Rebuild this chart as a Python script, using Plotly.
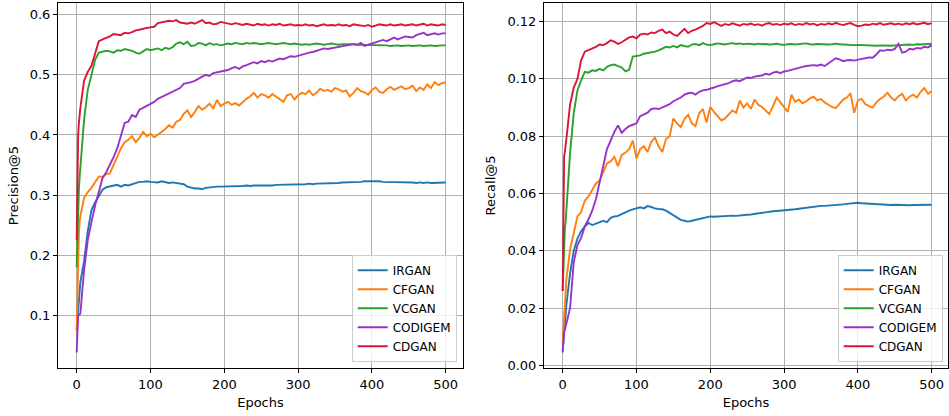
import plotly.graph_objects as go

epochs = [0, 1, 2, 3, 4] + list(range(5, 501, 5))

models = ["IRGAN", "CFGAN", "VCGAN", "CODIGEM", "CDGAN"]
colors = ["#1f77b4", "#ff7f0e", "#2ca02c", "#9932cc", "#dc143c"]

irgan_p = [0.075, 0.090, 0.103, 0.120, 0.140,
           0.155, 0.190, 0.240, 0.275, 0.288, 0.298, 0.309, 0.313, 0.314, 0.315,
           0.317, 0.314, 0.317, 0.316, 0.318, 0.321, 0.322, 0.322, 0.323, 0.322,
           0.322, 0.321, 0.323, 0.322, 0.320, 0.321, 0.320, 0.320, 0.318, 0.314,
           0.312, 0.311, 0.311, 0.310, 0.312, 0.313, 0.313, 0.314, 0.314, 0.314,
           0.314, 0.315, 0.314, 0.315, 0.315, 0.316, 0.315, 0.316, 0.316, 0.315,
           0.316, 0.316, 0.316, 0.317, 0.317, 0.317, 0.318, 0.318, 0.317, 0.318,
           0.318, 0.318, 0.319, 0.318, 0.319, 0.319, 0.319, 0.320, 0.320, 0.320,
           0.320, 0.321, 0.321, 0.321, 0.322, 0.322, 0.322, 0.323, 0.323, 0.324,
           0.323, 0.323, 0.322, 0.322, 0.322, 0.322, 0.321, 0.321, 0.322, 0.321,
           0.321, 0.320, 0.321, 0.320, 0.321, 0.320, 0.320, 0.320, 0.320, 0.321]

cfgan_p = [0.075, 0.150, 0.208, 0.235, 0.255,
           0.265, 0.295, 0.305, 0.312, 0.322, 0.331, 0.330, 0.335, 0.336, 0.350,
           0.366, 0.378, 0.388, 0.392, 0.398, 0.388, 0.395, 0.405, 0.398, 0.402,
           0.396, 0.400, 0.405, 0.410, 0.416, 0.412, 0.422, 0.425, 0.435, 0.441,
           0.430, 0.438, 0.448, 0.442, 0.446, 0.452, 0.444, 0.458, 0.448, 0.452,
           0.455, 0.450, 0.453, 0.449, 0.455, 0.460, 0.464, 0.470, 0.462, 0.468,
           0.466, 0.462, 0.468, 0.464, 0.460, 0.455, 0.466, 0.468, 0.459, 0.466,
           0.470, 0.468, 0.474, 0.466, 0.470, 0.477, 0.473, 0.475, 0.472, 0.478,
           0.476, 0.472, 0.474, 0.464, 0.470, 0.478, 0.473, 0.471, 0.467, 0.475,
           0.479, 0.472, 0.470, 0.476, 0.480, 0.475, 0.478, 0.481, 0.476, 0.478,
           0.482, 0.473, 0.479, 0.475, 0.484, 0.478, 0.488, 0.483, 0.486, 0.488]

vcgan_p = [0.180, 0.240, 0.280, 0.310, 0.330,
           0.345, 0.425, 0.475, 0.500, 0.525, 0.537, 0.538, 0.540, 0.539, 0.537,
           0.541, 0.540, 0.543, 0.542, 0.540, 0.537, 0.535, 0.539, 0.543, 0.541,
           0.543, 0.544, 0.541, 0.545, 0.543, 0.546, 0.552, 0.554, 0.551, 0.555,
           0.548, 0.549, 0.553, 0.552, 0.549, 0.553, 0.550, 0.551, 0.549, 0.551,
           0.552, 0.551, 0.553, 0.552, 0.551, 0.553, 0.552, 0.553, 0.552, 0.551,
           0.552, 0.553, 0.552, 0.551, 0.552, 0.553, 0.552, 0.551, 0.552, 0.551,
           0.550, 0.551, 0.550, 0.551, 0.552, 0.551, 0.550, 0.551, 0.552, 0.551,
           0.550, 0.551, 0.551, 0.552, 0.551, 0.550, 0.550, 0.549, 0.550, 0.549,
           0.549, 0.550, 0.549, 0.549, 0.548, 0.549, 0.549, 0.548, 0.549, 0.549,
           0.548, 0.549, 0.549, 0.548, 0.549, 0.549, 0.548, 0.549, 0.549, 0.549]

codigem_p = [0.038, 0.070, 0.100, 0.100, 0.101,
             0.103, 0.175, 0.225, 0.255, 0.283, 0.305, 0.328, 0.338, 0.350, 0.363,
             0.378, 0.400, 0.420, 0.422, 0.433, 0.430, 0.442, 0.445, 0.448, 0.451,
             0.455, 0.460, 0.463, 0.466, 0.470, 0.473, 0.476, 0.478, 0.485, 0.486,
             0.488, 0.490, 0.494, 0.497, 0.500, 0.498, 0.503, 0.504, 0.506, 0.507,
             0.508, 0.511, 0.513, 0.510, 0.514, 0.516, 0.518, 0.521, 0.519, 0.523,
             0.521, 0.524, 0.522, 0.525, 0.527, 0.526, 0.529, 0.531, 0.530, 0.532,
             0.533, 0.535, 0.537, 0.538, 0.540, 0.542, 0.544, 0.543, 0.544, 0.546,
             0.546, 0.547, 0.548, 0.549, 0.551, 0.550, 0.553, 0.548, 0.550, 0.552,
             0.553, 0.556, 0.558, 0.556, 0.559, 0.562, 0.559, 0.561, 0.564, 0.563,
             0.562, 0.566, 0.568, 0.570, 0.566, 0.567, 0.569, 0.567, 0.569, 0.569]

cdgan_p = [0.225, 0.385, 0.400, 0.420, 0.435,
           0.445, 0.490, 0.505, 0.515, 0.536, 0.556, 0.559, 0.561, 0.564, 0.568,
           0.567, 0.566, 0.570, 0.569, 0.571, 0.574, 0.575, 0.577, 0.578, 0.579,
           0.580, 0.586, 0.587, 0.588, 0.590, 0.589, 0.591, 0.587, 0.586, 0.585,
           0.587, 0.585, 0.588, 0.591, 0.586, 0.587, 0.584, 0.585, 0.588, 0.587,
           0.585, 0.584, 0.586, 0.584, 0.583, 0.585, 0.584, 0.582, 0.585, 0.583,
           0.584, 0.582, 0.584, 0.583, 0.585, 0.582, 0.583, 0.584, 0.582, 0.583,
           0.582, 0.584, 0.582, 0.583, 0.581, 0.583, 0.584, 0.582, 0.583, 0.582,
           0.584, 0.582, 0.583, 0.581, 0.584, 0.583, 0.582, 0.581, 0.583, 0.580,
           0.582, 0.584, 0.583, 0.582, 0.584, 0.582, 0.583, 0.584, 0.582, 0.583,
           0.584, 0.582, 0.583, 0.585, 0.582, 0.584, 0.583, 0.582, 0.584, 0.583]

irgan_r = [0.0050, 0.0090, 0.0130, 0.0160, 0.0190,
           0.0210, 0.0320, 0.0400, 0.0443, 0.0468, 0.0485, 0.0497, 0.0490, 0.0495, 0.0500,
           0.0505, 0.0500, 0.0515, 0.0520, 0.0522, 0.0528, 0.0535, 0.0540, 0.0545, 0.0548,
           0.0552, 0.0548, 0.0556, 0.0553, 0.0548, 0.0546, 0.0545, 0.0540, 0.0532, 0.0524,
           0.0514, 0.0508, 0.0505, 0.0502, 0.0505, 0.0508, 0.0512, 0.0514, 0.0517, 0.0520,
           0.0519, 0.0520, 0.0521, 0.0522, 0.0521, 0.0523, 0.0522, 0.0524, 0.0525, 0.0526,
           0.0527, 0.0529, 0.0531, 0.0534, 0.0536, 0.0537, 0.0538, 0.0539, 0.0540, 0.0540,
           0.0542, 0.0543, 0.0545, 0.0547, 0.0549, 0.0550, 0.0552, 0.0554, 0.0556, 0.0557,
           0.0557, 0.0558, 0.0557, 0.0559, 0.0560, 0.0562, 0.0564, 0.0566, 0.0567, 0.0568,
           0.0566, 0.0565, 0.0564, 0.0563, 0.0562, 0.0561, 0.0561, 0.0560, 0.0560, 0.0561,
           0.0560, 0.0559, 0.0560, 0.0559, 0.0560, 0.0560, 0.0561, 0.0560, 0.0561, 0.0561]

cfgan_r = [0.0080, 0.0130, 0.0180, 0.0230, 0.0270,
           0.0300, 0.0404, 0.0460, 0.0520, 0.0535, 0.0575, 0.0590, 0.0612, 0.0635, 0.0645,
           0.0675, 0.0705, 0.0712, 0.0728, 0.0695, 0.0735, 0.0742, 0.0755, 0.0785, 0.0722,
           0.0755, 0.0765, 0.0745, 0.0780, 0.0795, 0.0765, 0.0745, 0.0790, 0.0800, 0.0862,
           0.0845, 0.0832, 0.0860, 0.0875, 0.0845, 0.0835, 0.0880, 0.0895, 0.0848, 0.0902,
           0.0885, 0.0868, 0.0855, 0.0862, 0.0875, 0.0890, 0.0882, 0.0925, 0.0900, 0.0915,
           0.0895, 0.0928, 0.0910, 0.0902, 0.0890, 0.0878, 0.0905, 0.0935, 0.0918, 0.0900,
           0.0885, 0.0945, 0.0920, 0.0928, 0.0915, 0.0922, 0.0932, 0.0938, 0.0925, 0.0930,
           0.0918, 0.0910, 0.0902, 0.0898, 0.0912, 0.0928, 0.0935, 0.0950, 0.0882, 0.0925,
           0.0930, 0.0912, 0.0905, 0.0900, 0.0918, 0.0930, 0.0938, 0.0952, 0.0935, 0.0925,
           0.0940, 0.0948, 0.0925, 0.0938, 0.0945, 0.0935, 0.0955, 0.0968, 0.0948, 0.0958]

vcgan_r = [0.0260, 0.0360, 0.0450, 0.0480, 0.0500,
           0.0540, 0.0740, 0.0880, 0.0960, 0.0995, 0.1025, 0.1022, 0.1030, 0.1028, 0.1035,
           0.1030, 0.1042, 0.1048, 0.1050, 0.1045, 0.1040, 0.1026, 0.1032, 0.1078, 0.1080,
           0.1082, 0.1088, 0.1090, 0.1092, 0.1095, 0.1100, 0.1105, 0.1112, 0.1110, 0.1115,
           0.1110, 0.1118, 0.1115, 0.1112, 0.1120, 0.1122, 0.1118, 0.1125, 0.1120, 0.1118,
           0.1121, 0.1124, 0.1122, 0.1120, 0.1123, 0.1125, 0.1122, 0.1124, 0.1121, 0.1123,
           0.1122, 0.1120, 0.1123, 0.1121, 0.1122, 0.1120, 0.1121, 0.1123, 0.1120, 0.1119,
           0.1121, 0.1122, 0.1120, 0.1121, 0.1123, 0.1124, 0.1121, 0.1120, 0.1122, 0.1121,
           0.1122, 0.1120, 0.1121, 0.1123, 0.1121, 0.1120, 0.1119, 0.1120, 0.1118, 0.1119,
           0.1118, 0.1117, 0.1116, 0.1117, 0.1116, 0.1117, 0.1116, 0.1117, 0.1116, 0.1117,
           0.1118, 0.1117, 0.1119, 0.1120, 0.1119, 0.1121, 0.1120, 0.1121, 0.1122, 0.1123]

codigem_r = [0.0045, 0.0090, 0.0120, 0.0125, 0.0135,
             0.0140, 0.0200, 0.0360, 0.0420, 0.0445, 0.0485, 0.0510, 0.0540, 0.0580, 0.0640,
             0.0705, 0.0755, 0.0785, 0.0815, 0.0838, 0.0812, 0.0825, 0.0835, 0.0840, 0.0845,
             0.0870, 0.0875, 0.0882, 0.0895, 0.0897, 0.0895, 0.0900, 0.0905, 0.0912, 0.0922,
             0.0928, 0.0935, 0.0945, 0.0950, 0.0952, 0.0945, 0.0955, 0.0960, 0.0962, 0.0965,
             0.0970, 0.0975, 0.0978, 0.0982, 0.0985, 0.0992, 0.0995, 0.0992, 0.0998, 0.1005,
             0.1003, 0.1008, 0.1010, 0.1012, 0.1018, 0.1015, 0.1022, 0.1025, 0.1020, 0.1026,
             0.1028, 0.1032, 0.1035, 0.1040, 0.1042, 0.1045, 0.1046, 0.1048, 0.1046, 0.1050,
             0.1045, 0.1055, 0.1062, 0.1072, 0.1068, 0.1062, 0.1065, 0.1066, 0.1064, 0.1068,
             0.1070, 0.1072, 0.1075, 0.1074, 0.1085, 0.1100, 0.1098, 0.1102, 0.1100, 0.1105,
             0.1122, 0.1092, 0.1095, 0.1105, 0.1103, 0.1108, 0.1106, 0.1112, 0.1110, 0.1118]

cdgan_r = [0.0260, 0.0600, 0.0730, 0.0745, 0.0760,
           0.0790, 0.0910, 0.0970, 0.1000, 0.1065, 0.1095, 0.1100, 0.1105, 0.1112, 0.1120,
           0.1118, 0.1125, 0.1135, 0.1130, 0.1122, 0.1128, 0.1135, 0.1145, 0.1148, 0.1142,
           0.1155, 0.1158, 0.1155, 0.1162, 0.1160, 0.1168, 0.1172, 0.1160, 0.1165, 0.1155,
           0.1150, 0.1162, 0.1175, 0.1160, 0.1168, 0.1172, 0.1178, 0.1185, 0.1195, 0.1192,
           0.1198, 0.1190, 0.1185, 0.1192, 0.1188, 0.1194, 0.1190, 0.1186, 0.1192, 0.1189,
           0.1193, 0.1188, 0.1191, 0.1186, 0.1192, 0.1195, 0.1189, 0.1192, 0.1188, 0.1193,
           0.1190, 0.1194, 0.1188, 0.1192, 0.1189, 0.1195, 0.1190, 0.1193, 0.1187, 0.1192,
           0.1189, 0.1194, 0.1190, 0.1196, 0.1191, 0.1188, 0.1192, 0.1195, 0.1189, 0.1184,
           0.1186, 0.1190, 0.1188, 0.1193, 0.1190, 0.1195, 0.1189, 0.1192, 0.1194, 0.1190,
           0.1193, 0.1189, 0.1194, 0.1191, 0.1195, 0.1190, 0.1193, 0.1196, 0.1191, 0.1195]

precision = [irgan_p, cfgan_p, vcgan_p, codigem_p, cdgan_p]
recall = [irgan_r, cfgan_r, vcgan_r, codigem_r, cdgan_r]

FONT = "DejaVu Sans"
fig = go.Figure()
for name, col, ys in zip(models, colors, precision):
    fig.add_trace(go.Scatter(x=epochs, y=ys, mode="lines", name=name,
                             line=dict(color=col, width=1.9),
                             xaxis="x", yaxis="y", legend="legend"))
for name, col, ys in zip(models, colors, recall):
    fig.add_trace(go.Scatter(x=epochs, y=ys, mode="lines", name=name,
                             line=dict(color=col, width=1.9),
                             xaxis="x2", yaxis="y2", legend="legend2"))

axis_common = dict(showline=True, linecolor="black", linewidth=1, mirror=True,
                   ticks="outside", ticklen=4, tickcolor="black", tickwidth=1,
                   showgrid=True, gridcolor="#b0b0b0", gridwidth=0.8,
                   zeroline=False, automargin=False,
                   tickfont=dict(family=FONT, size=13, color="black"))

ydom = [1 - 368 / 416, 1 - 3 / 416]
legend_common = dict(xanchor="right", yanchor="bottom",
                     bgcolor="rgba(255,255,255,0.8)", bordercolor="#cccccc", borderwidth=1,
                     font=dict(family=FONT, size=12), tracegroupgap=0)
fig.update_layout(
    width=949, height=416,
    margin=dict(l=0, r=0, t=0, b=0),
    paper_bgcolor="white", plot_bgcolor="white",
    font=dict(family=FONT, size=13, color="black"),
    xaxis=dict(domain=[58 / 949, 463 / 949], range=[-25.3, 523.4], anchor="y",
               tickvals=[0, 100, 200, 300, 400, 500],
               title=dict(text="Epochs", standoff=7, font=dict(family=FONT, size=13)),
               **axis_common),
    yaxis=dict(domain=ydom, range=[0.0123, 0.6195], anchor="x",
               tickvals=[0.1, 0.2, 0.3, 0.4, 0.5, 0.6], tickformat=".1f",
               title=dict(text="Precision@5", standoff=8, font=dict(family=FONT, size=13)),
               **axis_common),
    xaxis2=dict(domain=[544 / 949, 948 / 949], range=[-25.3, 522.1], anchor="y2",
                tickvals=[0, 100, 200, 300, 400, 500],
                title=dict(text="Epochs", standoff=7, font=dict(family=FONT, size=13)),
                **axis_common),
    yaxis2=dict(domain=ydom, range=[-0.0009, 0.1265], anchor="x2",
                tickvals=[0.0, 0.02, 0.04, 0.06, 0.08, 0.10, 0.12], tickformat=".2f",
                title=dict(text="Recall@5", standoff=8, font=dict(family=FONT, size=13)),
                **axis_common),
    legend=dict(x=456.7 / 949, y=1 - 361.7 / 416, **legend_common),
    legend2=dict(x=942.7 / 949, y=1 - 361.7 / 416, **legend_common),
)

fig.write_html("out.html", config={"displayModeBar": False},
               post_script="document.body.style.margin='0';document.body.style.overflow='hidden';")
